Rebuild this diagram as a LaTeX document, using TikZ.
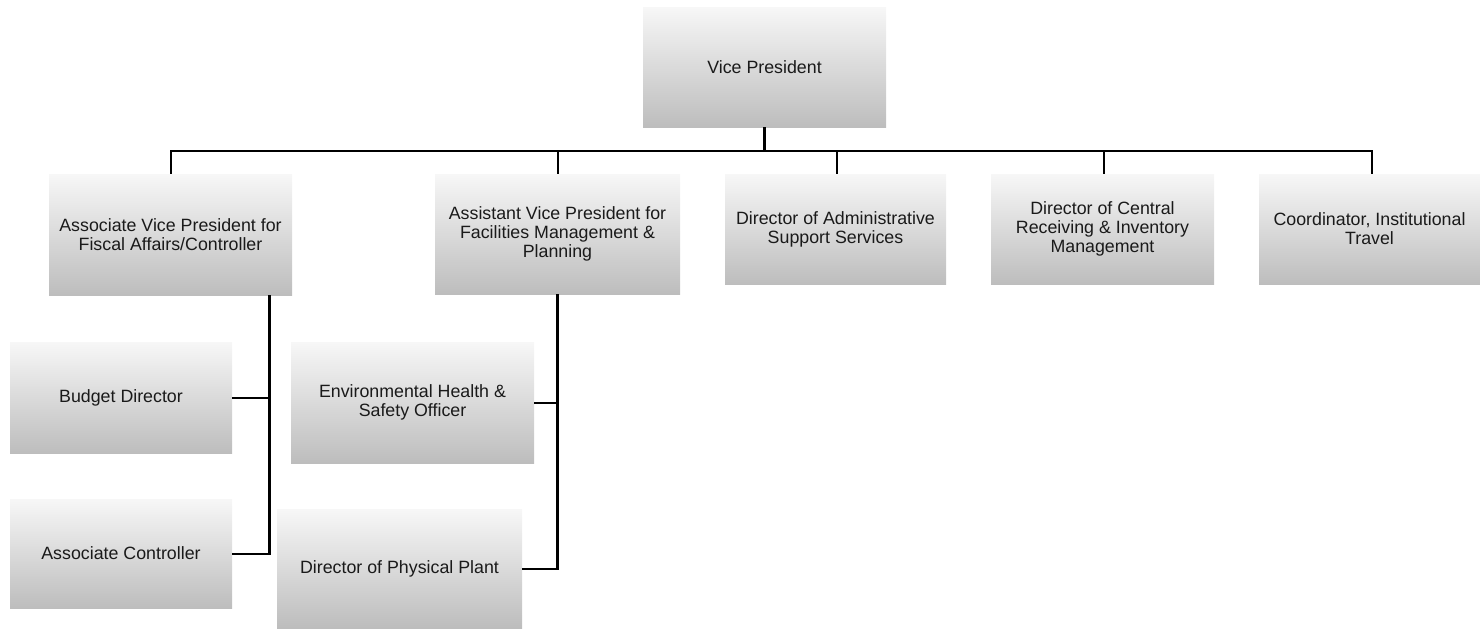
\documentclass[tikz,border=0pt]{standalone}
\usepackage{fontspec}
\setmainfont{Liberation Sans}
\definecolor{gtop}{HTML}{F7F7F7}
\definecolor{gmid}{HTML}{E2E2E2}
\definecolor{gbot}{HTML}{BDBDBD}
\definecolor{txt}{HTML}{1A1A1A}
\begin{document}
\begin{tikzpicture}[x=1pt,y=-1pt,
  box/.style={rectangle, inner sep=0pt, top color=gtop, middle color=gmid, bottom color=gbot,
    align=center, text=txt, font=\fontsize{17.8}{18.8}\selectfont},
  conn/.style={line width=2pt, black},
  thick conn/.style={line width=3.4pt, black}]
\useasboundingbox (0,0) rectangle (1480,629);
\node[box, minimum width=243pt, minimum height=120pt] (vp) at (764.5,67) {Vice President};
\node[box, minimum width=243pt, minimum height=121pt] (fiscal) at (170.5,234.5) {Associate Vice President for\\Fiscal Affairs/Controller};
\node[box, minimum width=245pt, minimum height=120pt] (facil) at (557.5,234) {Assistant Vice President for\\Facilities Management \&\\Planning};
\node[box, minimum width=221pt, minimum height=110pt] (admin) at (835.5,229) {Director of Administrative\\Support Services};
\node[box, minimum width=223pt, minimum height=110pt] (central) at (1102.5,229) {Director of Central\\Receiving \& Inventory\\Management};
\node[box, minimum width=221pt, minimum height=110pt] (coord) at (1369.5,229) {Coordinator, Institutional\\Travel};
\node[box, minimum width=222pt, minimum height=111pt] (budget) at (121,397.5) {Budget Director};
\node[box, minimum width=222pt, minimum height=109pt] (actrl) at (121,553.5) {Associate Controller};
\node[box, minimum width=243pt, minimum height=121pt] (ehs) at (412.5,402.5) {Environmental Health \&\\Safety Officer};
\node[box, minimum width=245pt, minimum height=119pt] (dpp) at (399.5,568.5) {Director of Physical Plant};
\coordinate (bus) at (764.5,151);
\coordinate (fs) at ([xshift=-23pt]fiscal.south east);
% top level
\draw[thick conn] (vp.south) -- (bus);
\draw[conn] (fiscal.north) -- (fiscal.north |- bus) -- ([xshift=2.5pt]coord.north |- bus) -- ([xshift=2.5pt]coord.north);
\draw[conn] (facil.north) -- (facil.north |- bus);
\draw[conn] ([xshift=1.5pt]admin.north) -- ([xshift=1.5pt]admin.north |- bus);
\draw[conn] ([xshift=1.5pt]central.north) -- ([xshift=1.5pt]central.north |- bus);
% fiscal branch
\draw[thick conn] (fs) -- (fs |- actrl.east);
\draw[conn] (budget.east) -- (fs |- budget.east);
\draw[conn] (actrl.east) -- ([xshift=1.7pt]fs |- actrl.east);
% facilities branch
\draw[thick conn] (facil.south) -- (facil.south |- dpp.east);
\draw[conn] (ehs.east) -- (facil.south |- ehs.east);
\draw[conn] (dpp.east) -- ([xshift=1.7pt]facil.south |- dpp.east);
\end{tikzpicture}
\end{document}
